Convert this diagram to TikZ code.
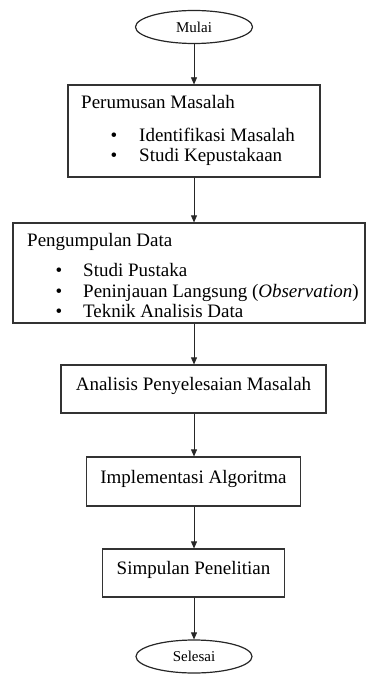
\documentclass[tikz,border=0pt]{standalone}
\usepackage{fontspec}
\setmainfont{Liberation Serif}
\usetikzlibrary{arrows.meta,shapes.geometric}
\begin{document}
\begin{tikzpicture}[x=1pt,y=-1pt,
  box/.style={draw=black!80, line width=1.2pt, inner sep=0pt},
  term/.style={draw=black!85, ellipse, line width=1.2pt, inner sep=0pt, font=\fontsize{15}{17}\selectfont},
  lbl/.style={anchor=base west, inner sep=0pt, font=\fontsize{19}{22}\selectfont},
  bul/.style={anchor=base, inner sep=0pt, font=\fontsize{19}{22}\selectfont},
  ctr/.style={anchor=base, inner sep=0pt, font=\fontsize{19}{22}\selectfont},
  arr/.style={-{Triangle[length=7pt,width=6pt]}, line width=0.7pt, draw=black!85, fill=black}]
\useasboundingbox (0,0) rectangle (367,674);
\node[term, minimum width=117pt, minimum height=33pt] (mulai) at (194,27) {Mulai};
\node[box, minimum width=252pt, minimum height=92pt] (b1) at (194,131) {};
\node[lbl] (t1) at (81,109) {Perumusan Masalah};
\node[bul] (t1a) at (114,142) {\textbullet};
\node[lbl] (t1b) at (139,142) {Identifikasi Masalah};
\node[bul] (t1c) at (114,161) {\textbullet};
\node[lbl] (t1d) at (139,161) {Studi Kepustakaan};
\node[box, minimum width=352pt, minimum height=100pt] (b2) at (189,273) {};
\node[lbl] (t2) at (27,246) {Pengumpulan Data};
\node[bul] (t2a) at (59,276) {\textbullet};
\node[lbl] (t2b) at (83,276) {Studi Pustaka};
\node[bul] (t2c) at (59,297) {\textbullet};
\node[lbl] (t2d) at (83,297) {Peninjauan Langsung (\textit{Observation})};
\node[bul] (t2e) at (59,317) {\textbullet};
\node[lbl] (t2f) at (83,317) {Teknik Analisis Data};
\node[box, minimum width=265pt, minimum height=48pt] (b3) at (193.5,389) {};
\node[ctr] (t3) at (193.5,390) {Analisis Penyelesaian Masalah};
\node[box, minimum width=214pt, minimum height=49pt] (b4) at (193.5,481.5) {};
\node[ctr] (t4) at (193.5,483) {Implementasi Algoritma};
\node[box, minimum width=182pt, minimum height=48pt] (b5) at (193.5,573) {};
\node[ctr] (t5) at (193.5,574) {Simpulan Penelitian};
\node[term, minimum width=116pt, minimum height=33pt] (selesai) at (194,656.5) {Selesai};
\draw[arr] (mulai.south) -- (mulai.south |- b1.north);
\draw[arr] (mulai.south |- b1.south) -- (mulai.south |- b2.north);
\draw[arr] (mulai.south |- b2.south) -- (mulai.south |- b3.north);
\draw[arr] (mulai.south |- b3.south) -- (mulai.south |- b4.north);
\draw[arr] (mulai.south |- b4.south) -- (mulai.south |- b5.north);
\draw[arr] (mulai.south |- b5.south) -- (selesai.north);
\end{tikzpicture}
\end{document}
